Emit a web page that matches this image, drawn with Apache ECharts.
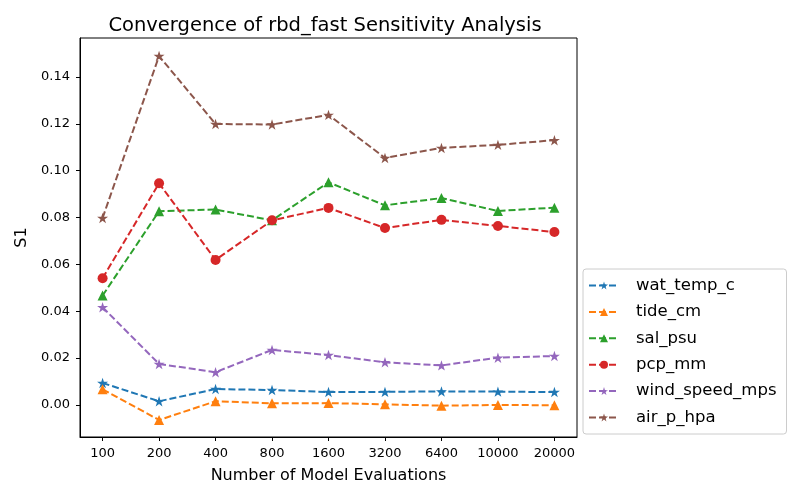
<!DOCTYPE html>
<html><head><meta charset="utf-8">
<script src="https://cdn.jsdelivr.net/npm/echarts@6/dist/echarts.min.js"></script>
<style>html,body{margin:0;padding:0;background:#fff}#c{width:800px;height:500px}</style>
</head><body><div id="c"></div>
<script>
const categories = ['100','200','400','800','1600','3200','6400','10000','20000'];
const yTicks = [0, 0.02, 0.04, 0.06, 0.08, 0.10, 0.12, 0.14];
const wat_temp_c = [0.0094, 0.0016, 0.0068, 0.0064, 0.0055, 0.0056, 0.0058, 0.0057, 0.0055];
const tide_cm = [0.0067, -0.0064, 0.0016, 0.0007, 0.0008, 0.0003, -0.0003, 0.0000, -0.0001];
const sal_psu = [0.0467, 0.0827, 0.0834, 0.0788, 0.0950, 0.0852, 0.0883, 0.0828, 0.0842];
const pcp_mm = [0.0541, 0.0946, 0.0619, 0.0788, 0.0841, 0.0755, 0.0790, 0.0764, 0.0738];
const wind_speed_mps = [0.0417, 0.0175, 0.0140, 0.0235, 0.0213, 0.0182, 0.0169, 0.0202, 0.0209];
const air_p_hpa = [0.0798, 0.1489, 0.1199, 0.1197, 0.1238, 0.1054, 0.1097, 0.1110, 0.1130];

const STAR = 'path://M50 0 L61.23 34.55 L97.55 34.55 L68.17 55.9 L79.39 90.45 L50 69.1 L20.61 90.45 L31.83 55.9 L2.45 34.55 L38.77 34.55 Z';
const seriesDefs = [
  ['wat_temp_c', wat_temp_c, '#1f77b4', STAR, 11],
  ['tide_cm', tide_cm, '#ff7f0e', 'triangle', 10],
  ['sal_psu', sal_psu, '#2ca02c', 'triangle', 10],
  ['pcp_mm', pcp_mm, '#d62728', 'circle', 10],
  ['wind_speed_mps', wind_speed_mps, '#9467bd', STAR, 11],
  ['air_p_hpa', air_p_hpa, '#8c564b', STAR, 11]
];
const font = 'DejaVu Sans';
const chart = echarts.init(document.getElementById('c'), null, {renderer: 'canvas'});
chart.setOption({
  animation: false,
  backgroundColor: '#fff',
  title: {text: 'Convergence of rbd_fast Sensitivity Analysis', left: 320, top: 11, textAlign: 'center',
    textStyle: {fontFamily: font, fontSize: 19.5, fontWeight: 'normal', color: '#000'}},
  grid: {left: 80, right: 223, top: 38, bottom: 63, show: true, borderColor: '#000', borderWidth: 1, backgroundColor: 'transparent'},
  xAxis: {type: 'value', min: -0.4, max: 8.4,
    name: 'Number of Model Evaluations', nameLocation: 'middle', nameGap: 31,
    nameTextStyle: {fontFamily: font, fontSize: 16, color: '#000'},
    axisLine: {show: true, onZero: false, lineStyle: {color: '#000'}},
    axisTick: {show: true, length: 4, lineStyle: {color: '#000'}, customValues: categories.map((c, i) => i)},
    axisLabel: {fontFamily: font, fontSize: 13, color: '#000', margin: 10, customValues: categories.map((c, i) => i),
      formatter: v => categories[Math.round(v)]},
    splitLine: {show: false}},
  yAxis: {type: 'value', min: -0.01366, max: 0.1566,
    name: 'S1', nameLocation: 'middle', nameGap: 48,
    nameTextStyle: {fontFamily: font, fontSize: 16, color: '#000'},
    axisLine: {show: true, onZero: false, lineStyle: {color: '#000'}},
    axisTick: {show: true, length: 4, lineStyle: {color: '#000'}, customValues: yTicks},
    axisLabel: {fontFamily: font, fontSize: 13, color: '#000', margin: 10, customValues: yTicks,
      formatter: v => v.toFixed(2)},
    splitLine: {show: false}},
  legend: {orient: 'vertical', left: 583, top: 269, width: 190,
    backgroundColor: '#fff', borderColor: '#ccc', borderWidth: 1, borderRadius: 3,
    padding: [8, 10, 8, 5], itemWidth: 30, itemHeight: 10, itemGap: 9.4,
    textStyle: {fontFamily: font, fontSize: 16.5, color: '#000', padding: [0, 0, 0, 12]},
    data: seriesDefs.map(d => d[0])},
  series: seriesDefs.map(d => ({
    name: d[0], type: 'line',
    data: d[1].map((v, i) => [i, v]),
    symbol: d[3], symbolSize: d[4], symbolKeepAspect: true, showAllSymbol: true,
    lineStyle: {color: d[2], width: 2, type: [7, 3]},
    itemStyle: {color: d[2], borderWidth: 0}
  }))
});
</script></body></html>
